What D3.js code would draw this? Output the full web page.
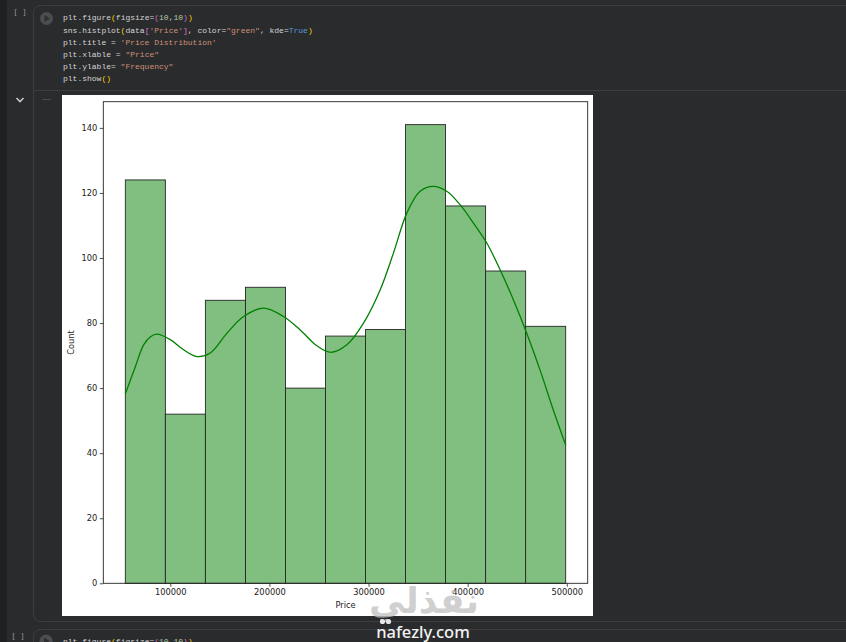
<!DOCTYPE html>
<html>
<head>
  <meta charset="utf-8">
  <title>Price Distribution</title>
  <script src="https://d3js.org/d3.v7.min.js"></script>
  <style>
    body { margin: 0; background: #2a2b2d; overflow: hidden; }
    .tick text { font-family: "DejaVu Sans", sans-serif; font-size: 8.3px; fill: #222; }
    .tick line { stroke: #222; stroke-width: 0.8; }
    .code { font-family: "Liberation Mono", "DejaVu Sans Mono", monospace; font-size: 8px; }
  </style>
</head>
<body>
  <div id="chart"></div>
  <script>
    // histogram bins (11 bins, 1000 rows in total)
    const binEdges = [54600, 95000, 135400, 175800, 216200, 256600, 296900, 337300, 377700, 418100, 458500, 498900];
    const counts = [124, 52, 87, 91, 60, 76, 78, 141, 116, 96, 79];

    // kde curve, sampled by eye
    const kdePrice = [54600, 64700, 73100, 80000, 86600, 100000, 113400, 126900, 140300, 157200, 173900, 194100,
      214200, 231000, 247900, 262000, 278100, 294900, 311700, 325100, 338600, 352000, 365400, 378900,
      392300, 405700, 419300, 432700, 446100, 459600, 473000, 486400, 498900];
    const kdeCount = [58.2, 66.6, 73.3, 75.8, 76.6, 74.9, 71.8, 69.7, 70.8, 76.9, 82.0, 84.6,
      82.0, 77.9, 73.0, 71.0, 73.3, 80.0, 90.2, 101.5, 113.8, 120.5, 122.0, 120.5,
      116.4, 110.8, 104.6, 96.4, 87.2, 76.9, 65.6, 53.3, 42.5];

    const xTicks = [100000, 200000, 300000, 400000, 500000];
    const yTicks = [0, 20, 40, 60, 80, 100, 120, 140];

    // notebook cell source
    const C = { def: "#d4d4d4", str: "#ce9178", num: "#b5cea8", kw: "#569cd6", p1: "#ffd700", p2: "#da70d6" };
    const codeLines = [
      [["plt.figure", "def"], ["(", "p1"], ["figsize=", "def"], ["(", "p2"], ["10", "num"], [",", "def"], ["10", "num"], [")", "p2"], [")", "p1"]],
      [["sns.histplot", "def"], ["(", "p1"], ["data", "def"], ["[", "p2"], ["'Price'", "str"], ["]", "p2"], [", color=", "def"], ["\"green\"", "str"], [", kde=", "def"], ["True", "kw"], [")", "p1"]],
      [["plt.title = ", "def"], ["'Price Distribution'", "str"]],
      [["plt.xlable = ", "def"], ["\"Price\"", "str"]],
      [["plt.ylable= ", "def"], ["\"Frequency\"", "str"]],
      [["plt.show", "def"], ["()", "p1"]]
    ];

    const W = 846, H = 642;
    const svg = d3.select("#chart").append("svg")
      .attr("width", W).attr("height", H);

    // ---- notebook chrome ----
    svg.append("rect").attr("width", W).attr("height", H).attr("fill", "#2a2b2d");
    svg.append("rect").attr("width", 7).attr("height", H).attr("fill", "#1f2022");

    svg.append("rect")
      .attr("x", 33.5).attr("y", 5.5).attr("width", W).attr("height", 616)
      .attr("rx", 7).attr("fill", "none").attr("stroke", "#3d3e41");
    svg.append("line")
      .attr("x1", 34).attr("x2", W).attr("y1", 90.5).attr("y2", 90.5)
      .attr("stroke", "#3d3e41");

    svg.append("text").attr("x", 20).attr("y", 15).attr("text-anchor", "middle")
      .attr("font-family", "DejaVu Sans Mono").attr("font-size", 7.5).attr("fill", "#9a9ca0")
      .text("[ ]");

    function runButton(cx, cy) {
      svg.append("circle").attr("cx", cx).attr("cy", cy).attr("r", 6.5).attr("fill", "#4b4d50");
      svg.append("path")
        .attr("d", `M${cx - 2},${cy - 3.5} L${cx + 3.5},${cy} L${cx - 2},${cy + 3.5} Z`)
        .attr("fill", "#2e2f31");
    }
    runButton(46.5, 18.5);

    codeLines.forEach((line, i) => {
      const t = svg.append("text").attr("class", "code")
        .attr("x", 63).attr("y", 20.3 + i * 12.2);
      line.forEach(tok => t.append("tspan").attr("fill", C[tok[1]]).text(tok[0]));
    });

    // collapse chevron and output "..." marker
    svg.append("path").attr("d", "M16.5,98 L20,101.5 L23.5,98")
      .attr("fill", "none").attr("stroke", "#c8c8c8").attr("stroke-width", 1.6);
    svg.append("line").attr("x1", 42.5).attr("x2", 50.5).attr("y1", 99.5).attr("y2", 99.5)
      .attr("stroke", "#5a5c5f").attr("stroke-width", 1.2).attr("stroke-dasharray", "2,1");

    // next cell peeking at the bottom
    svg.append("rect")
      .attr("x", 33.5).attr("y", 629.5).attr("width", W).attr("height", 40)
      .attr("rx", 7).attr("fill", "none").attr("stroke", "#3d3e41");
    svg.append("text").attr("x", 18).attr("y", 638.5).attr("text-anchor", "middle")
      .attr("font-family", "DejaVu Sans Mono").attr("font-size", 7.5).attr("fill", "#9a9ca0")
      .text("[ ]");
    runButton(46, 641);
    const t2 = svg.append("text").attr("class", "code").attr("x", 63).attr("y", 643.5);
    codeLines[0].forEach(tok => t2.append("tspan").attr("fill", C[tok[1]]).text(tok[0]));

    // ---- figure ----
    svg.append("rect").attr("x", 62).attr("y", 95).attr("width", 531).attr("height", 521).attr("fill", "#fff");

    const axLeft = 103.3, axRight = 587.7, axTop = 101.7, axBottom = 583.3;
    const pad = (binEdges[11] - binEdges[0]) * 0.05;
    const x = d3.scaleLinear()
      .domain([binEdges[0] - pad, binEdges[11] + pad])
      .range([axLeft, axRight]);
    const y = d3.scaleLinear()
      .domain([0, d3.max(counts) * 1.05])
      .range([axBottom, axTop]);

    const bars = counts.map((c, i) => ({ x0: binEdges[i], x1: binEdges[i + 1], c: c }));
    svg.append("g").selectAll("rect")
      .data(bars)
      .enter()
      .append("rect")
      .attr("x", d => x(d.x0))
      .attr("y", d => y(d.c))
      .attr("width", d => x(d.x1) - x(d.x0))
      .attr("height", d => y(0) - y(d.c))
      .attr("fill", "#80bf80")
      .attr("stroke", "#262626")
      .attr("stroke-width", 0.9);

    const kde = kdePrice.map((p, i) => [p, kdeCount[i]]);
    svg.append("path")
      .datum(kde)
      .attr("fill", "none")
      .attr("stroke", "#008000")
      .attr("stroke-width", 1.3)
      .attr("d", d3.line().x(d => x(d[0])).y(d => y(d[1])).curve(d3.curveCatmullRom.alpha(0.5)));

    // axes
    const xAxis = svg.append("g")
      .attr("transform", "translate(0," + axBottom + ")")
      .call(d3.axisBottom(x).tickValues(xTicks).tickFormat(d3.format("d")).tickSize(3.5).tickPadding(2.5));
    xAxis.select(".domain").remove();

    const yAxis = svg.append("g")
      .attr("transform", "translate(" + axLeft + ",0)")
      .call(d3.axisLeft(y).tickValues(yTicks).tickSize(3.5).tickPadding(2.5));
    yAxis.select(".domain").remove();

    svg.append("rect")
      .attr("x", axLeft).attr("y", axTop).attr("width", axRight - axLeft).attr("height", axBottom - axTop)
      .attr("fill", "none").attr("stroke", "#222").attr("stroke-width", 0.9);

    svg.append("text")
      .attr("x", (axLeft + axRight) / 2).attr("y", 608)
      .attr("text-anchor", "middle")
      .attr("font-family", "DejaVu Sans").attr("font-size", 8.3).attr("fill", "#222")
      .text("Price");

    svg.append("text")
      .attr("transform", "translate(74," + (axTop + axBottom) / 2 + ") rotate(-90)")
      .attr("text-anchor", "middle")
      .attr("font-family", "DejaVu Sans").attr("font-size", 8.3).attr("fill", "#222")
      .text("Count");

    // ---- watermark ----
    svg.append("text")
      .attr("x", 424).attr("y", 613)
      .attr("text-anchor", "middle")
      .attr("font-family", "DejaVu Sans").attr("font-weight", "bold").attr("font-size", 36)
      .attr("fill", "rgba(195,195,195,0.8)")
      .text("نفذلي");
    svg.append("circle").attr("cx", 382.5).attr("cy", 621.5).attr("r", 2.6).attr("fill", "#e6e6e6");
    svg.append("circle").attr("cx", 388.5).attr("cy", 621.5).attr("r", 2.6).attr("fill", "#e6e6e6");
    svg.append("text")
      .attr("x", 423).attr("y", 638)
      .attr("text-anchor", "middle")
      .attr("font-family", "Noto Sans").attr("font-weight", 500).attr("font-size", 16.5)
      .attr("fill", "#f2f2f2")
      .text("nafezly.com");
  </script>
</body>
</html>
